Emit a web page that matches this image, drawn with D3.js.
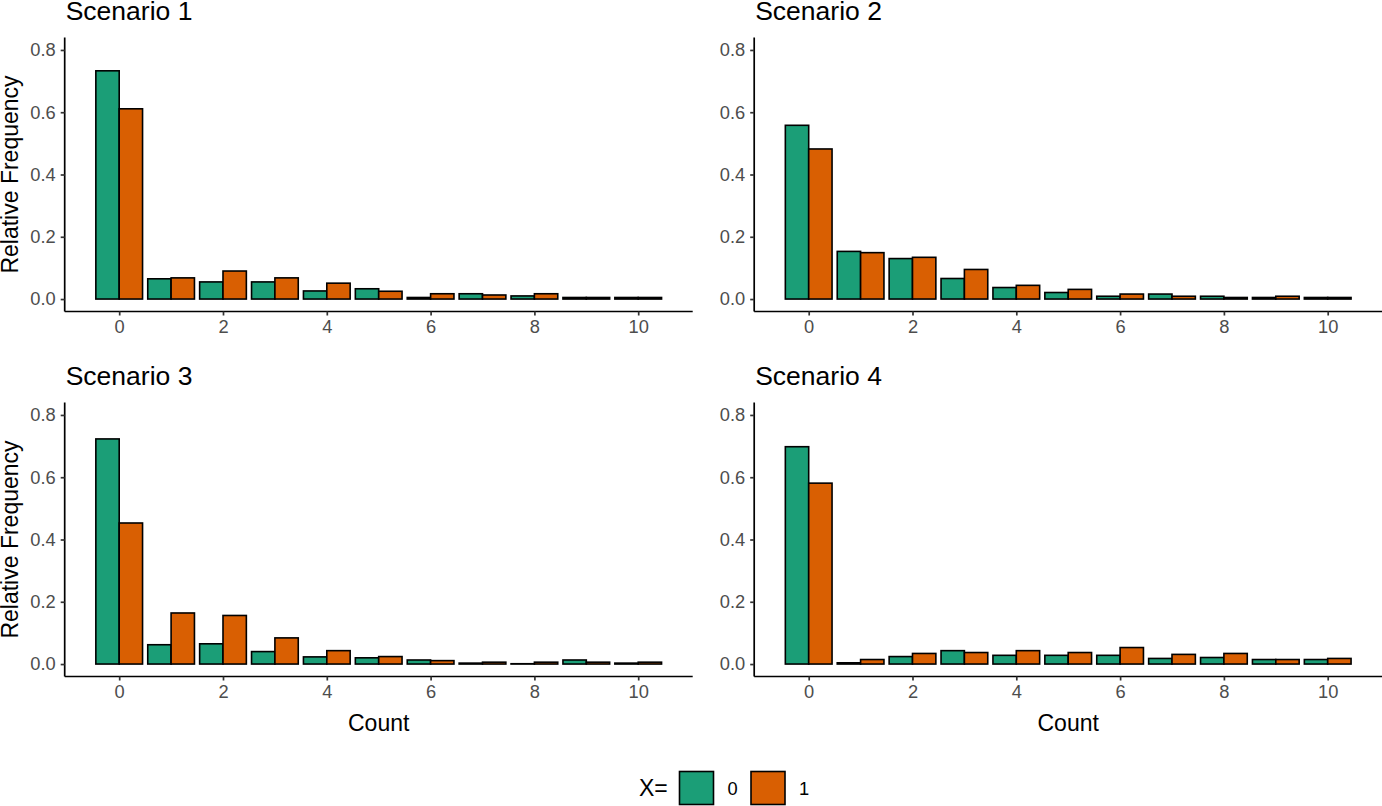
<!DOCTYPE html>
<html>
<head>
<meta charset="utf-8">
<script src="https://cdn.jsdelivr.net/npm/d3@7"></script>
<style>
  html, body { margin: 0; padding: 0; background: #fff; }
  svg { display: block; }
  text { font-family: "Liberation Sans", Arial, sans-serif; }
</style>
</head>
<body>
<svg id="chart" width="1382" height="806"></svg>
<script>
// ---- data ----
const counts = [0, 1, 2, 3, 4, 5, 6, 7, 8, 9, 10];
const groups = ["0", "1"];
const titles = ["Scenario 1", "Scenario 2", "Scenario 3", "Scenario 4"];
const xTicks = [0, 2, 4, 6, 8, 10];
const yTicks = [0.0, 0.2, 0.4, 0.6, 0.8];
const colors = ["#1B9E77", "#D95F02"];

const s1_x0 = [0.733, 0.065, 0.055, 0.055, 0.026, 0.033, 0.005, 0.017, 0.010, 0.005, 0.005];
const s1_x1 = [0.611, 0.068, 0.090, 0.068, 0.051, 0.025, 0.017, 0.013, 0.017, 0.005, 0.005];
const s2_x0 = [0.558, 0.153, 0.130, 0.066, 0.037, 0.021, 0.009, 0.016, 0.009, 0.005, 0.005];
const s2_x1 = [0.482, 0.149, 0.134, 0.095, 0.044, 0.031, 0.016, 0.009, 0.005, 0.009, 0.005];
const s3_x0 = [0.723, 0.062, 0.065, 0.040, 0.023, 0.020, 0.013, 0.003, 0.001, 0.013, 0.003];
const s3_x1 = [0.453, 0.164, 0.156, 0.084, 0.043, 0.024, 0.011, 0.006, 0.006, 0.006, 0.006];
const s4_x0 = [0.698, 0.004, 0.024, 0.043, 0.028, 0.028, 0.028, 0.018, 0.021, 0.0145, 0.0145];
const s4_x1 = [0.581, 0.0145, 0.034, 0.037, 0.043, 0.037, 0.053, 0.031, 0.034, 0.0145, 0.018];

const scenarios = [[s1_x0, s1_x1], [s2_x0, s2_x1], [s3_x0, s3_x1], [s4_x0, s4_x1]];

// ---- layout ----
const svg = d3.select("#chart");
const panelW = 628, panelH = 274;
const lefts = [64.7, 754.2];
const tops = [37.5, 402.5];
const barW = 0.45;

scenarios.forEach((sc, i) => {
  const col = i % 2, row = Math.floor(i / 2);
  const x0 = lefts[col], y0 = tops[row];
  const x = d3.scaleLinear().domain([-1.05, 11.05]).range([x0, x0 + panelW]);
  const y = d3.scaleLinear().domain([-0.04, 0.84]).range([y0 + panelH, y0]);
  const g = svg.append("g");

  // bars
  sc.forEach((vals, gi) => {
    g.append("g").selectAll("rect").data(counts).join("rect")
      .attr("x", d => x(d - barW + gi * barW))
      .attr("width", d => x(d + barW) - x(d))
      .attr("y", (d, k) => y(vals[k]))
      .attr("height", (d, k) => y(0) - y(vals[k]))
      .attr("fill", colors[gi])
      .attr("stroke", "#000")
      .attr("stroke-width", 1.6);
  });

  // x axis
  const xa = g.append("g").attr("transform", `translate(0,${y0 + panelH})`)
    .call(d3.axisBottom(x).tickValues(xTicks).tickFormat(d3.format("d")).tickSize(4).tickPadding(5));
  xa.select(".domain").attr("stroke", "#000").attr("stroke-width", 1.7)
    .attr("d", `M${x0},0H${x0 + panelW}`);
  xa.selectAll(".tick line").attr("stroke", "#333").attr("stroke-width", 1.7);
  xa.selectAll(".tick text").attr("fill", "#4D4D4D").style("font-size", "18.3px")
    .style("font-family", "Liberation Sans, Arial, sans-serif");

  // y axis
  const ya = g.append("g").attr("transform", `translate(${x0},0)`)
    .call(d3.axisLeft(y).tickValues(yTicks).tickFormat(d3.format(".1f")).tickSize(4).tickPadding(5));
  ya.select(".domain").attr("stroke", "#000").attr("stroke-width", 1.7)
    .attr("d", `M0,${y0}V${y0 + panelH}`);
  ya.selectAll(".tick line").attr("stroke", "#333").attr("stroke-width", 1.7);
  ya.selectAll(".tick text").attr("fill", "#4D4D4D").style("font-size", "18.3px")
    .style("font-family", "Liberation Sans, Arial, sans-serif");

  // title
  g.append("text").attr("x", x0 + 1).attr("y", y0 - 18)
    .style("font-size", "26.5px").attr("fill", "#000").text(titles[i]);

  // y title
  if (col === 0) {
    g.append("text")
      .attr("transform", `translate(${x0 - 47},${y0 + panelH / 2}) rotate(-90)`)
      .attr("text-anchor", "middle").style("font-size", "23px").attr("fill", "#000")
      .text("Relative Frequency");
  }
  // x title
  if (row === 1) {
    g.append("text").attr("x", x0 + panelW / 2).attr("y", y0 + panelH + 54)
      .attr("text-anchor", "middle").style("font-size", "23px").attr("fill", "#000")
      .text("Count");
  }
});

// legend
const leg = svg.append("g");
leg.append("text").attr("x", 639).attr("y", 796).style("font-size", "23px").text("X=");
const keyX = [679.5, 751];
groups.forEach((lab, gi) => {
  leg.append("rect").attr("x", keyX[gi]).attr("y", 771.5).attr("width", 34).attr("height", 33)
    .attr("fill", colors[gi]).attr("stroke", "#000").attr("stroke-width", 1.6);
  leg.append("text").attr("x", keyX[gi] + 48).attr("y", 795).style("font-size", "18.3px").text(lab);
});
</script>
</body>
</html>
